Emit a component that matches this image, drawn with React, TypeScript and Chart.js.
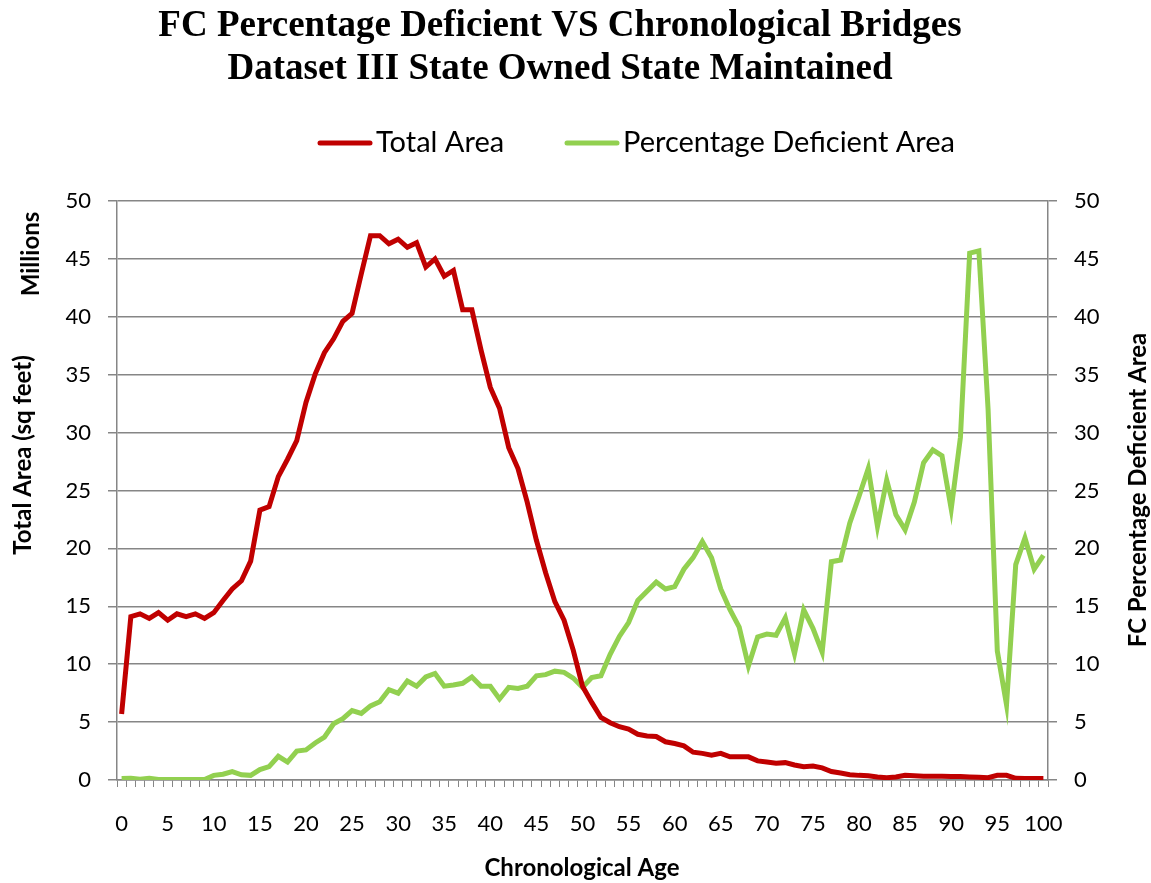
import React, { useEffect, useRef } from 'react';
import { Chart, registerables } from 'chart.js';

Chart.register(...registerables);

const ages: string[] = Array.from({ length: 101 }, (_, i) => String(i));

const totalAreaMillions: number[] = [
  5.7, 14.1, 14.35, 13.95, 14.45, 13.8, 14.35, 14.1, 14.35, 13.95,
  14.45, 15.5, 16.5, 17.2, 18.9, 23.3, 23.6, 26.2, 27.7, 29.3,
  32.6, 35.05, 36.9, 38.1, 39.6, 40.3, 43.7, 47.0, 47.0, 46.3,
  46.7, 46.0, 46.4, 44.3, 45.0, 43.5, 44.0, 40.6, 40.6, 37.1,
  33.9, 32.1, 28.7, 26.9, 24.0, 20.7, 17.9, 15.4, 13.8, 11.2,
  8.1, 6.7, 5.4, 4.95, 4.6, 4.4, 3.95, 3.8, 3.75, 3.3,
  3.15, 2.95, 2.4, 2.3, 2.15, 2.3, 2.0, 2.0, 2.0, 1.65,
  1.55, 1.45, 1.5, 1.3, 1.15, 1.2, 1.05, 0.73, 0.6, 0.46,
  0.4, 0.36, 0.26, 0.2, 0.26, 0.4, 0.36, 0.33, 0.33, 0.33,
  0.3, 0.3, 0.26, 0.23, 0.2, 0.4, 0.4, 0.15, 0.13, 0.13,
  0.13,
];

const pctDeficientArea: number[] = [
  0.13, 0.15, 0.07, 0.15, 0.05, 0.05, 0.05, 0.05, 0.05, 0.05,
  0.4, 0.5, 0.73, 0.45, 0.4, 0.9, 1.15, 2.05, 1.55, 2.5,
  2.6, 3.2, 3.7, 4.86, 5.3, 6.0, 5.75, 6.4, 6.75, 7.8,
  7.5, 8.55, 8.1, 8.9, 9.2, 8.1, 8.2, 8.35, 8.9, 8.1,
  8.1, 7.0, 8.0, 7.9, 8.1, 9.0, 9.1, 9.4, 9.3, 8.8,
  8.0, 8.85, 9.0, 10.85, 12.4, 13.6, 15.5, 16.3, 17.1, 16.5,
  16.7, 18.2, 19.2, 20.6, 19.2, 16.5, 14.7, 13.2, 9.85, 12.35,
  12.6, 12.5, 14.0, 10.9, 14.7, 13.1, 11.05, 18.85, 19.0, 22.2,
  24.5, 26.9, 21.9, 25.9, 22.9, 21.6, 24.0, 27.4, 28.5, 28.0,
  23.4, 29.6, 45.5, 45.7, 32.0, 11.15, 6.5, 18.6, 20.9, 18.2,
  19.4,
];

const titleLines: string[] = [
  'FC Percentage Deficient VS Chronological Bridges',
  'Dataset III State Owned State Maintained',
];
const seriesNames: string[] = ['Total Area', 'Percentage Deficient Area'];
const leftAxisTitle = 'Total Area (sq feet)';
const leftAxisUnit = 'Millions';
const rightAxisTitle = 'FC Percentage Deficient Area';
const xAxisTitle = 'Chronological Age';

const RED = '#C00000';
const GREEN = '#92D050';
const GRID = '#868686';
const FONT = 'Lato, "Open Sans", sans-serif';

const textPlugin = {
  id: 'textPlugin',
  afterDraw(chart: any) {
    const ctx = chart.ctx as CanvasRenderingContext2D;
    ctx.save();
    ctx.fillStyle = '#000';
    ctx.textAlign = 'center';
    ctx.textBaseline = 'middle';
    ctx.font = 'bold 37px "Liberation Serif", serif';
    ctx.fillText(titleLines[0], 560, 26);
    ctx.fillText(titleLines[1], 560, 69);

    // legend
    ctx.lineCap = 'round';
    ctx.lineWidth = 5;
    ctx.strokeStyle = RED;
    ctx.beginPath();
    ctx.moveTo(320, 143);
    ctx.lineTo(370, 143);
    ctx.stroke();
    ctx.strokeStyle = GREEN;
    ctx.beginPath();
    ctx.moveTo(567, 143);
    ctx.lineTo(617, 143);
    ctx.stroke();
    ctx.textAlign = 'left';
    ctx.font = `29px ${FONT}`;
    ctx.fillText(seriesNames[0], 376, 143);
    ctx.fillText(seriesNames[1], 623, 143);

    // axis titles
    ctx.textAlign = 'center';
    ctx.font = `bold 24px ${FONT}`;
    ctx.fillText(xAxisTitle, 582, 868);

    ctx.save();
    ctx.translate(23, 455);
    ctx.rotate(-Math.PI / 2);
    ctx.fillText(leftAxisTitle, 0, 0);
    ctx.restore();

    ctx.save();
    ctx.translate(31, 254);
    ctx.rotate(-Math.PI / 2);
    ctx.fillText(leftAxisUnit, 0, 0);
    ctx.restore();

    ctx.save();
    ctx.translate(1138, 490);
    ctx.rotate(-Math.PI / 2);
    ctx.fillText(rightAxisTitle, 0, 0);
    ctx.restore();

    ctx.restore();
  },
};

export default function App() {
  const ref = useRef<HTMLCanvasElement | null>(null);

  useEffect(() => {
    if (!ref.current) return;
    const chart = new Chart(ref.current, {
      type: 'line',
      data: {
        labels: ages,
        datasets: [
          {
            label: seriesNames[0],
            data: totalAreaMillions,
            borderColor: RED,
            backgroundColor: RED,
            borderWidth: 5,
            pointRadius: 0,
            tension: 0,
            yAxisID: 'y',
            order: 1,
          },
          {
            label: seriesNames[1],
            data: pctDeficientArea,
            borderColor: GREEN,
            backgroundColor: GREEN,
            borderWidth: 5,
            pointRadius: 0,
            tension: 0,
            yAxisID: 'y1',
            order: 2,
          },
        ],
      },
      options: {
        responsive: false,
        animation: false,
        layout: { padding: { top: 201, left: 0, right: 0, bottom: 0 } },
        plugins: {
          legend: { display: false },
          title: { display: false },
          tooltip: { enabled: false },
        },
        scales: {
          x: {
            type: 'category',
            offset: true,
            afterFit: (s: any) => { s.height = 103; },
            grid: {
              display: true,
              drawOnChartArea: false,
              drawTicks: true,
              tickLength: 7,
              color: GRID,
              lineWidth: 1,
              offset: true,
            },
            border: { display: true, color: GRID, width: 1.5 },
            ticks: {
              autoSkip: false,
              maxRotation: 0,
              minRotation: 0,
              padding: 24,
              color: '#000',
              font: { family: FONT, size: 22 },
              callback: (_v: any, i: number) => (i % 5 === 0 ? ages[i] : ''),
            },
          },
          y: {
            position: 'left',
            min: 0,
            max: 50,
            afterFit: (s: any) => { s.width = 117; },
            grid: {
              color: GRID,
              lineWidth: 1.5,
              drawTicks: true,
              tickLength: 9,
            },
            border: { display: true, color: GRID, width: 1.5 },
            ticks: {
              stepSize: 5,
              padding: 17,
              color: '#000',
              font: { family: FONT, size: 22 },
            },
          },
          y1: {
            position: 'right',
            min: 0,
            max: 50,
            afterFit: (s: any) => { s.width = 103; },
            grid: {
              drawOnChartArea: false,
              color: GRID,
              lineWidth: 1.5,
              drawTicks: true,
              tickLength: 9,
            },
            border: { display: true, color: GRID, width: 1.5 },
            ticks: {
              stepSize: 5,
              padding: 17,
              color: '#000',
              font: { family: FONT, size: 22 },
            },
          },
        },
      },
      plugins: [textPlugin],
    });
    return () => chart.destroy();
  }, []);

  return (
    <div style={{ position: 'absolute', left: 0, top: 0, width: 1151, height: 883, background: '#fff' }}>
      <canvas ref={ref} width={1151} height={883} style={{ display: 'block' }} />
    </div>
  );
}
